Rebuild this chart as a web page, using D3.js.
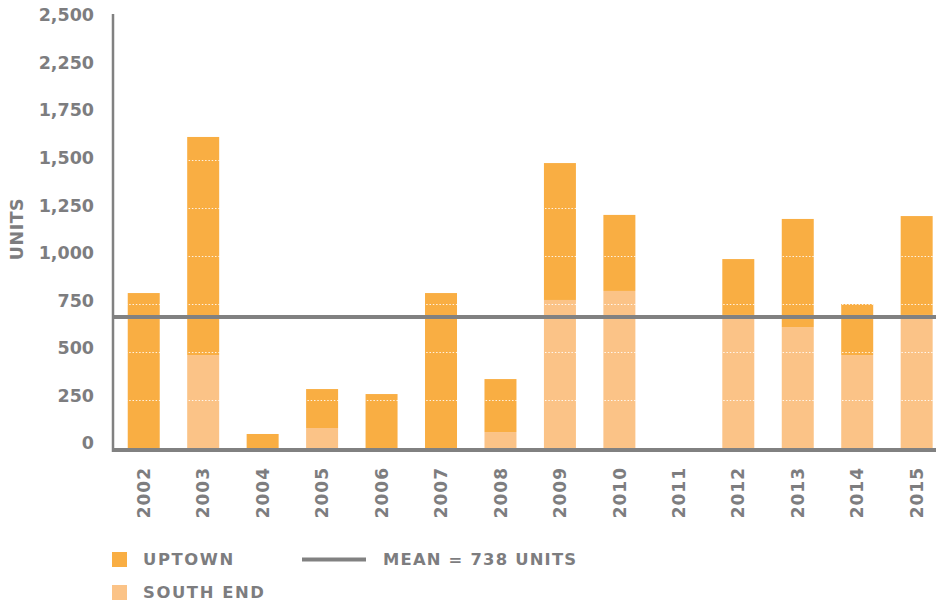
<!DOCTYPE html>
<meta charset="utf-8">
<style>
    body {
        margin: 0;
        background: #fff;
        font-family: "DejaVu Sans", sans-serif;
    }

    text {
        font-weight: bold;
        fill: #7d7d7f;
    }
</style>
<svg width="936" height="602"></svg>
<script src="https://cdnjs.cloudflare.com/ajax/libs/d3/7.8.5/d3.min.js"></script>
<script>
    // values
    var years = ["2002", "2003", "2004", "2005", "2006", "2007", "2008",
        "2009", "2010", "2011", "2012", "2013", "2014", "2015"];
    var southEnd = [0, 484, 0, 104, 0, 0, 83, 771, 818, 0, 693, 630, 484, 693];
    var uptown = [807, 1136, 73, 203, 281, 807, 276, 713, 396, 0, 291, 563, 266, 515];
    var tickValues = [0, 250, 500, 750, 1000, 1250, 1500, 1750, 2000, 2250];
    var tickLabels = ["0", "250", "500", "750", "1,000", "1,250", "1,500", "1,750", "2,250", "2,500"];
    var meanDrawnAt = 682; // where the line sits in the picture
    var meanLabel = "MEAN = 738 UNITS";

    var uptownColor = "#f9ae43",
        southColor = "#fbc387",
        grey = "#818181";

    var svg = d3.select("svg");

    var rows = years.map(function (y, i) {
        return { year: y, south: southEnd[i], uptown: uptown[i] };
    });

    var x = d3.scaleBand()
        .domain(years)
        .range([114, 946.4])
        .paddingInner(0.462)
        .paddingOuter(0.231);

    var y = d3.scaleLinear()
        .domain([0, 2250])
        .range([448, 16]);

    var stack = d3.stack().keys(["south", "uptown"]);
    var layers = stack(rows);
    var colors = { south: southColor, uptown: uptownColor };

    svg.append("g")
        .selectAll("g")
        .data(layers)
        .enter().append("g")
        .attr("fill", function (d) { return colors[d.key]; })
        .selectAll("rect")
        .data(function (d) { return d; })
        .enter().append("rect")
        .attr("x", function (d) { return x(d.data.year); })
        .attr("width", x.bandwidth())
        .attr("y", function (d) { return y(d[1]); })
        .attr("height", function (d) { return y(d[0]) - y(d[1]); });

    // dotted white gridlines, only show up over the bars
    svg.append("g")
        .selectAll("line")
        .data(tickValues.slice(1))
        .enter().append("line")
        .attr("x1", 116)
        .attr("x2", 936)
        .attr("y1", function (d) { return y(d) + 0.5; })
        .attr("y2", function (d) { return y(d) + 0.5; })
        .attr("stroke", "#fff")
        .attr("stroke-width", 1)
        .attr("stroke-dasharray", "1.5,1.8")
        .attr("opacity", 0.85);

    // mean line
    svg.append("line")
        .attr("x1", 113)
        .attr("x2", 936)
        .attr("y1", y(meanDrawnAt))
        .attr("y2", y(meanDrawnAt))
        .attr("stroke", grey)
        .attr("stroke-width", 4);

    // axes lines
    svg.append("line")
        .attr("x1", 113).attr("x2", 113)
        .attr("y1", 14).attr("y2", 452)
        .attr("stroke", grey)
        .attr("stroke-width", 2.5);

    svg.append("line")
        .attr("x1", 112).attr("x2", 936)
        .attr("y1", 450).attr("y2", 450)
        .attr("stroke", grey)
        .attr("stroke-width", 4);

    // y tick labels
    svg.append("g")
        .selectAll("text")
        .data(tickValues)
        .enter().append("text")
        .attr("x", 94)
        .attr("y", function (d) { return y(d) - 5 + d / 2250 * 4; })
        .attr("dy", "0.36em")
        .attr("text-anchor", "end")
        .style("font-size", "17.5px")
        .text(function (d, i) { return tickLabels[i]; });

    svg.append("text")
        .attr("transform", "translate(23,229) rotate(-90)")
        .attr("text-anchor", "middle")
        .style("font-size", "17.5px")
        .style("letter-spacing", "0.5px")
        .text("UNITS");

    // x labels
    svg.append("g")
        .selectAll("text")
        .data(years)
        .enter().append("text")
        .attr("transform", function (d) {
            return "translate(" + (x(d) + x.bandwidth() / 2) + ",467) rotate(-90)";
        })
        .attr("dy", "0.36em")
        .attr("text-anchor", "end")
        .style("font-size", "17px")
        .style("letter-spacing", "1px")
        .text(function (d) { return d; });

    // legend
    var legend = svg.append("g");
    legend.append("rect")
        .attr("x", 112).attr("y", 552)
        .attr("width", 15).attr("height", 15)
        .attr("fill", uptownColor);
    legend.append("text")
        .attr("x", 143).attr("y", 565)
        .style("font-size", "16.4px")
        .style("letter-spacing", "1.6px")
        .text("UPTOWN");
    legend.append("rect")
        .attr("x", 112).attr("y", 585)
        .attr("width", 15).attr("height", 15)
        .attr("fill", southColor);
    legend.append("text")
        .attr("x", 143).attr("y", 598)
        .style("font-size", "16.4px")
        .style("letter-spacing", "1.6px")
        .text("SOUTH END");
    legend.append("line")
        .attr("x1", 302).attr("x2", 366)
        .attr("y1", 559.5).attr("y2", 559.5)
        .attr("stroke", grey)
        .attr("stroke-width", 4);
    legend.append("text")
        .attr("x", 383).attr("y", 565)
        .style("font-size", "16.4px")
        .style("letter-spacing", "1.2px")
        .text(meanLabel);
</script>
